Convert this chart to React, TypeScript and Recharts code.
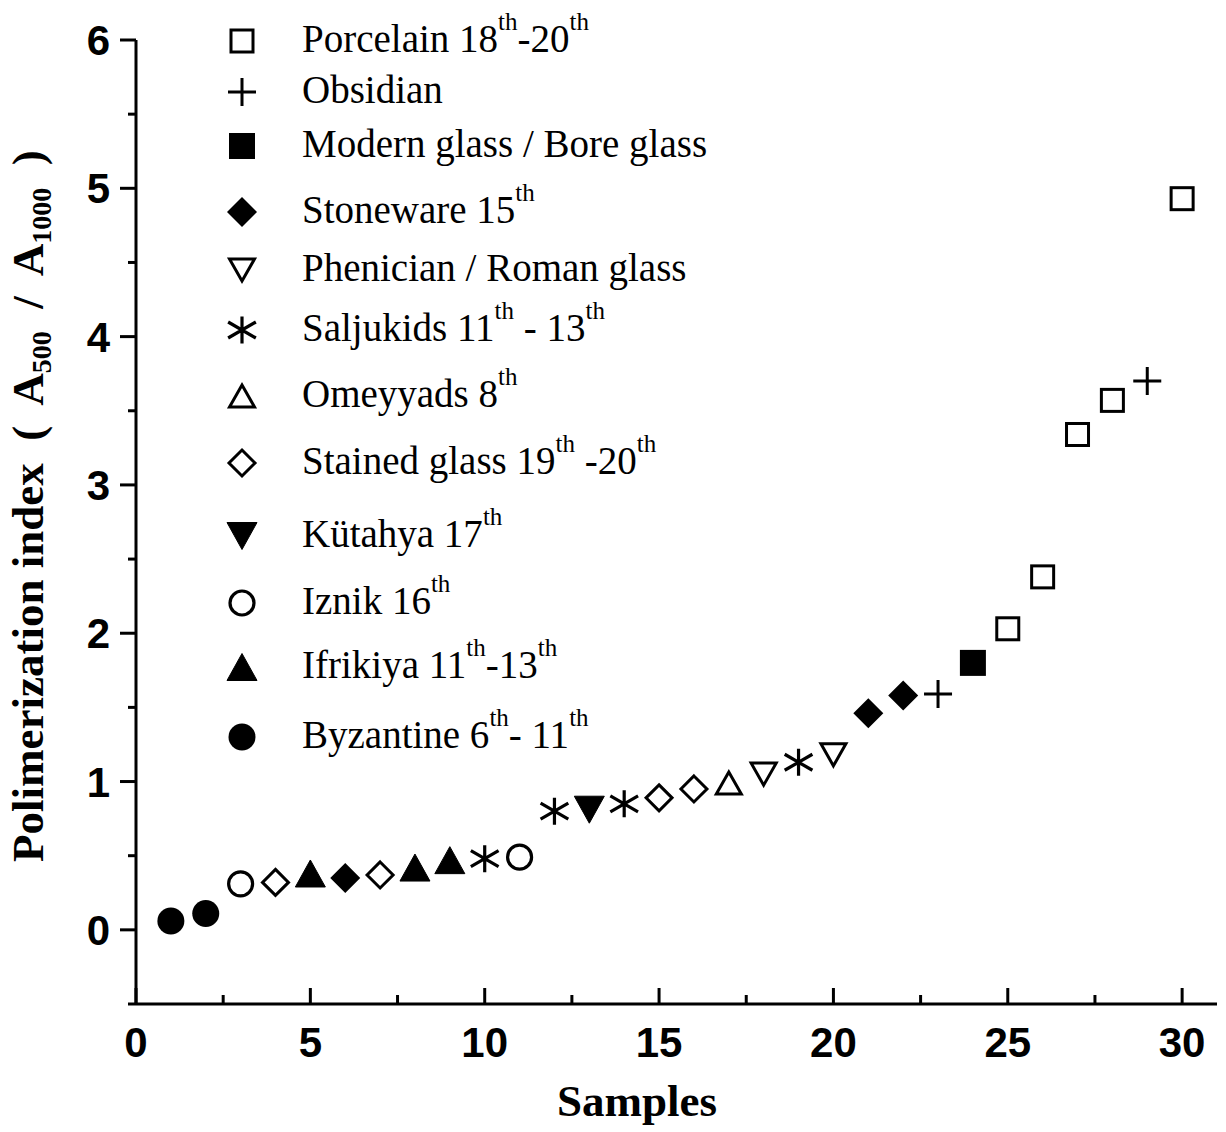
import React from 'react';
import { ScatterChart, Scatter, XAxis, YAxis, Legend } from 'recharts';

// sample number (x) and polimerization index A500/A1000 (y)
const samples = [1, 2, 3, 4, 5, 6, 7, 8, 9, 10, 11, 12, 13, 14, 15, 16, 17, 18, 19, 20, 21, 22, 23, 24, 25, 26, 27, 28, 29, 30];
const polimerizationIndex = [
  0.06, 0.11, 0.31, 0.32, 0.38, 0.35, 0.37, 0.42, 0.47, 0.48,
  0.49, 0.80, 0.81, 0.85, 0.89, 0.95, 0.99, 1.05, 1.13, 1.18,
  1.46, 1.58, 1.59, 1.80, 2.03, 2.38, 3.34, 3.57, 3.70, 4.93,
];
const sampleGroup = [
  'byzantine', 'byzantine', 'iznik', 'stained', 'ifrikiya', 'stoneware', 'stained', 'ifrikiya', 'ifrikiya', 'saljukids',
  'iznik', 'saljukids', 'kutahya', 'saljukids', 'stained', 'stained', 'omeyyads', 'phenician', 'saljukids', 'phenician',
  'stoneware', 'stoneware', 'obsidian', 'modern', 'porcelain', 'porcelain', 'porcelain', 'porcelain', 'obsidian', 'porcelain',
];

// legend order, top to bottom ("^" marks a superscript "th")
const groupKeys = ['porcelain', 'obsidian', 'modern', 'stoneware', 'phenician', 'saljukids', 'omeyyads', 'stained', 'kutahya', 'iznik', 'ifrikiya', 'byzantine'];
const groupLabels = [
  'Porcelain 18^th-20^th',
  'Obsidian',
  'Modern glass / Bore glass',
  'Stoneware 15^th',
  'Phenician / Roman glass',
  'Saljukids 11^th - 13^th',
  'Omeyyads 8^th',
  'Stained glass 19^th -20^th',
  'Kütahya 17^th',
  'Iznik 16^th',
  'Ifrikiya 11^th-13^th',
  'Byzantine 6^th- 11^th',
];

const xTicks = [0, 2.5, 5, 7.5, 10, 12.5, 15, 17.5, 20, 22.5, 25, 27.5, 30];
const yTicks = [-0.5, 0, 0.5, 1, 1.5, 2, 2.5, 3, 3.5, 4, 4.5, 5, 5.5, 6];

// styling
const markerFor: Record<string, string> = {
  porcelain: 'openSquare',
  obsidian: 'plus',
  modern: 'filledSquare',
  stoneware: 'filledDiamond',
  phenician: 'openTriangleDown',
  saljukids: 'asterisk',
  omeyyads: 'openTriangleUp',
  stained: 'openDiamond',
  kutahya: 'filledTriangleDown',
  iznik: 'openCircle',
  ifrikiya: 'filledTriangleUp',
  byzantine: 'filledCircle',
};
const legendRowY = [41, 92, 146, 212, 270, 330, 396, 463, 536, 603, 667, 737];

const SERIF = '"Liberation Serif", "Times New Roman", Times, serif';
const SANS = '"Liberation Sans", Arial, Helvetica, sans-serif';
const INK = '#000';

function Marker({ kind, cx, cy }: { kind: string; cx: number; cy: number }) {
  const sw = 3;
  switch (kind) {
    case 'openSquare':
      return <rect x={cx - 11} y={cy - 11} width={22} height={22} fill="none" stroke={INK} strokeWidth={sw} />;
    case 'filledSquare':
      return <rect x={cx - 13} y={cy - 13} width={26} height={26} fill={INK} />;
    case 'plus':
      return <path d={`M${cx - 14},${cy}H${cx + 14}M${cx},${cy - 14}V${cy + 14}`} stroke={INK} strokeWidth={sw} fill="none" />;
    case 'filledDiamond':
      return <polygon points={`${cx},${cy - 15} ${cx + 15},${cy} ${cx},${cy + 15} ${cx - 15},${cy}`} fill={INK} />;
    case 'openDiamond':
      return <polygon points={`${cx},${cy - 13} ${cx + 13},${cy} ${cx},${cy + 13} ${cx - 13},${cy}`} fill="none" stroke={INK} strokeWidth={sw} />;
    case 'openTriangleUp':
      return <polygon points={`${cx},${cy - 11} ${cx + 12.5},${cy + 11} ${cx - 12.5},${cy + 11}`} fill="none" stroke={INK} strokeWidth={sw} />;
    case 'openTriangleDown':
      return <polygon points={`${cx},${cy + 11} ${cx + 12.5},${cy - 11} ${cx - 12.5},${cy - 11}`} fill="none" stroke={INK} strokeWidth={sw} />;
    case 'filledTriangleUp':
      return <polygon points={`${cx},${cy - 13.5} ${cx + 15},${cy + 13.5} ${cx - 15},${cy + 13.5}`} fill={INK} stroke={INK} strokeWidth={1} strokeLinejoin="round" />;
    case 'filledTriangleDown':
      return <polygon points={`${cx},${cy + 13.5} ${cx + 15},${cy - 13.5} ${cx - 15},${cy - 13.5}`} fill={INK} stroke={INK} strokeWidth={1} strokeLinejoin="round" />;
    case 'asterisk': {
      const rv = 13.5;
      const r = 16;
      const dx = r * Math.cos(Math.PI / 6);
      const dy = r * Math.sin(Math.PI / 6);
      return (
        <path
          d={`M${cx},${cy - rv}V${cy + rv}M${cx - dx},${cy - dy}L${cx + dx},${cy + dy}M${cx - dx},${cy + dy}L${cx + dx},${cy - dy}`}
          stroke={INK}
          strokeWidth={3.2}
          fill="none"
        />
      );
    }
    case 'openCircle':
      return <circle cx={cx} cy={cy} r={12} fill="none" stroke={INK} strokeWidth={3.2} />;
    case 'filledCircle':
    default:
      return <circle cx={cx} cy={cy} r={13.5} fill={INK} />;
  }
}

// turns "Porcelain 18^th-20^th" into tspans with raised "th"
function withSuperscripts(label: string) {
  const parts = label.split('^');
  const out: React.ReactNode[] = [<tspan key="p0">{parts[0]}</tspan>];
  parts.slice(1).forEach((p, i) => {
    out.push(
      <tspan key={`s${i}`} fontSize={25} dy={-22}>
        {p.slice(0, 2)}
      </tspan>
    );
    out.push(
      <tspan key={`r${i}`} dy={22}>
        {p.slice(2) || '\u200b'}
      </tspan>
    );
  });
  return out;
}

function LegendBox() {
  return (
    <svg width={760} height={780} style={{ display: 'block', overflow: 'visible' }}>
      {groupKeys.map((g, i) => (
        <g key={g}>
          <Marker kind={markerFor[g]} cx={242} cy={legendRowY[i]} />
          <text x={302} y={legendRowY[i] + 11} fontFamily={SERIF} fontSize={39} fill={INK} style={{ whiteSpace: 'pre' }}>
            {withSuperscripts(groupLabels[i])}
          </text>
        </g>
      ))}
    </svg>
  );
}

function XTick(props: any) {
  const { x, y, payload } = props;
  const v = payload.value as number;
  const major = v % 5 === 0;
  return (
    <g>
      <line x1={x} x2={x} y1={y} y2={y - (major ? 16 : 9)} stroke={INK} strokeWidth={3} />
      {major && (
        <text x={x} y={y + 53} textAnchor="middle" fontFamily={SANS} fontWeight="bold" fontSize={42} fill={INK}>
          {v}
        </text>
      )}
    </g>
  );
}

function YTick(props: any) {
  const { x, y, payload } = props;
  const v = payload.value as number;
  const major = Number.isInteger(v);
  return (
    <g>
      <line x1={x} x2={x - (major ? 16 : 8)} y1={y} y2={y} stroke={INK} strokeWidth={3} />
      {major && (
        <text x={x - 26} y={y + 15} textAnchor="end" fontFamily={SANS} fontWeight="bold" fontSize={42} fill={INK}>
          {v}
        </text>
      )}
    </g>
  );
}

function YTitle() {
  const x = 43;
  const y = 862;
  return (
    <text
      x={x}
      y={y}
      transform={`rotate(-90, ${x}, ${y})`}
      textAnchor="start"
      fontFamily={SERIF}
      fontWeight="bold"
      fontSize={45}
      fill={INK}
      style={{ whiteSpace: 'pre' }}
    >
      <tspan>{'Polimerization index  (  A'}</tspan>
      <tspan fontSize={28} dy={8}>500</tspan>
      <tspan dy={-8}>{'  /  A'}</tspan>
      <tspan fontSize={28} dy={8}>1000</tspan>
      <tspan dy={-8}>{'  )'}</tspan>
    </text>
  );
}

function XTitle() {
  return (
    <text x={637} y={1116} textAnchor="middle" fontFamily={SERIF} fontWeight="bold" fontSize={45} fill={INK}>
      Samples
    </text>
  );
}

export default function App() {
  const seriesData = groupKeys.map((g) =>
    samples
      .map((s, i) => ({ x: s, y: polimerizationIndex[i], group: sampleGroup[i] }))
      .filter((d) => d.group === g)
  );

  return (
    <div style={{ position: 'absolute', left: 0, top: 0, width: 1226, height: 1132, background: '#fff' }}>
      <ScatterChart width={1226} height={1132} margin={{ top: 40, right: 9, bottom: 0, left: 0 }}>
        <XAxis
          type="number"
          dataKey="x"
          domain={[0, 31]}
          ticks={xTicks}
          interval={0}
          height={128}
          tickSize={0}
          tickMargin={0}
          tickLine={false}
          axisLine={{ stroke: INK, strokeWidth: 3 }}
          tick={<XTick />}
          label={<XTitle />}
        />
        <YAxis
          type="number"
          dataKey="y"
          domain={[-0.5, 6]}
          ticks={yTicks}
          interval={0}
          width={136}
          tickSize={0}
          tickMargin={0}
          tickLine={false}
          axisLine={{ stroke: INK, strokeWidth: 3 }}
          tick={<YTick />}
          label={<YTitle />}
        />
        <Legend
          layout="vertical"
          align="center"
          verticalAlign="middle"
          content={() => <LegendBox />}
          wrapperStyle={{ position: 'absolute', left: 0, top: 0, width: 760, height: 780, margin: 0, padding: 0 }}
        />
        {groupKeys.map((g, i) => (
          <Scatter
            key={g}
            name={groupLabels[i].replace(/\^/g, '')}
            data={seriesData[i]}
            isAnimationActive={false}
            shape={(p: any) => <Marker kind={markerFor[g]} cx={p.cx} cy={p.cy} />}
          />
        ))}
      </ScatterChart>
    </div>
  );
}
